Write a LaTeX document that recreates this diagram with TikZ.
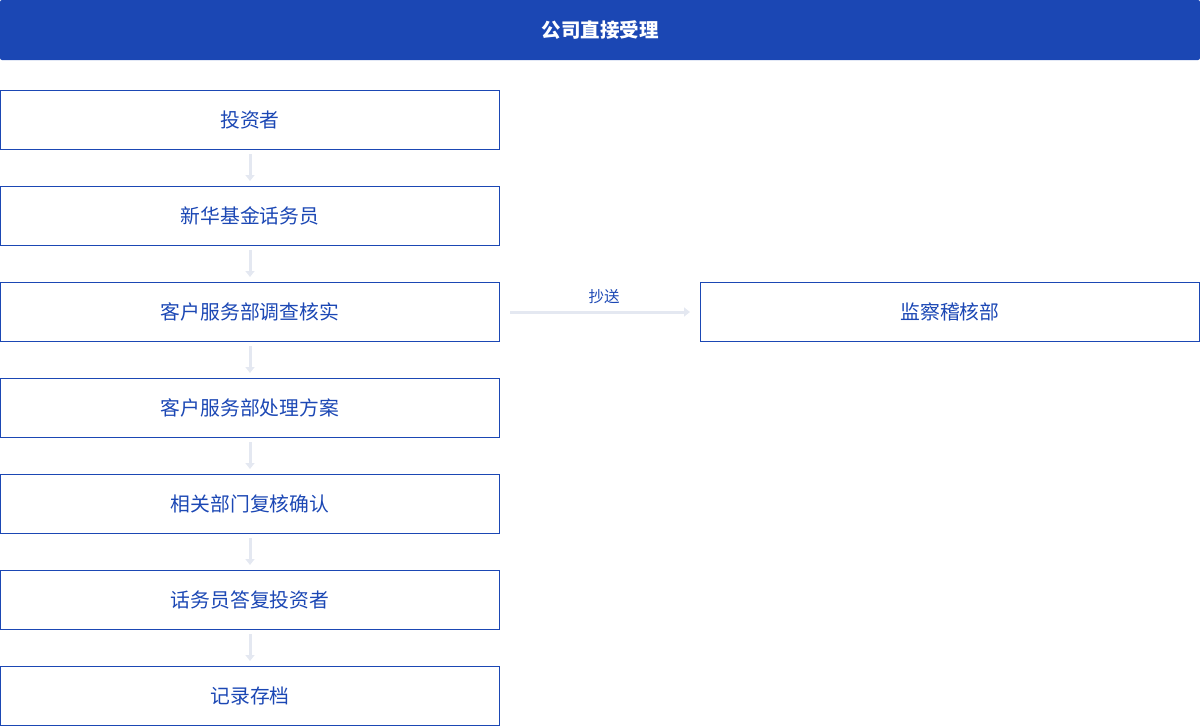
\documentclass[tikz,border=0pt]{standalone}
\usepackage{fontspec}
\setmainfont{Noto Sans CJK SC}
\usetikzlibrary{arrows.meta}
\definecolor{hdr}{HTML}{1B47B4}
\definecolor{arr}{HTML}{E4E8F1}
\begin{document}
\begin{tikzpicture}[x=1pt,y=-1pt,
  stepbox/.style={draw=hdr,line width=1pt,minimum width=499pt,minimum height=59pt,inner sep=0pt,text=hdr,font=\fontsize{19.8}{22}\selectfont},
  flow/.style={draw=arr,line width=3pt,-{Triangle[length=6pt,width=9pt]}}]
\useasboundingbox (0,0) rectangle (1200,726);
\node[fill=hdr,rounded corners=2pt,minimum width=1200pt,minimum height=60pt,inner sep=0pt,text=white,font=\bfseries\fontsize{19.5}{22}\selectfont] (h) at (600,30) {公司直接受理};
\node[stepbox] (a) at (250,120) {投资者};
\node[stepbox] (b) at (250,216) {新华基金话务员};
\node[stepbox] (c) at (250,312) {客户服务部调查核实};
\node[stepbox] (d) at (250,408) {客户服务部处理方案};
\node[stepbox] (e) at (250,504) {相关部门复核确认};
\node[stepbox] (f) at (250,600) {话务员答复投资者};
\node[stepbox] (g) at (250,696) {记录存档};
\node[stepbox] (m) at (950,312) {监察稽核部};
\foreach \p/\q in {a/b,b/c,c/d,d/e,e/f,f/g}{
  \draw[flow] ([yshift=-4pt]\p.south) -- ([yshift=5pt]\q.north);
}
\draw[flow] ([xshift=10pt]c.east) -- node[above=3pt,xshift=4pt,text=hdr,font=\fontsize{15.5}{18}\selectfont] (lbl) {抄送} ([xshift=-10pt]m.west);
\end{tikzpicture}
\end{document}
